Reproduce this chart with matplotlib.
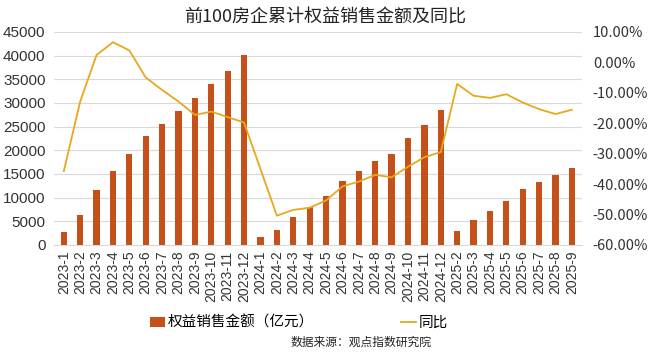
import matplotlib
matplotlib.use("Agg")
import matplotlib.pyplot as plt
import numpy as np

plt.rcParams['font.family'] = ['Noto Sans CJK SC', 'DejaVu Sans']
plt.rcParams['axes.unicode_minus'] = False

months = ([f"2023-{m}" for m in range(1, 13)]
          + [f"2024-{m}" for m in range(1, 13)]
          + [f"2025-{m}" for m in range(2, 10)])

sales = [2750, 6350, 11500, 15650, 19250, 22900, 25600, 28200, 30950, 33950, 36800, 40150,
         1700, 3100, 5850, 7950, 10400, 13450, 15550, 17800, 19250, 22550, 25350, 28400,
         2900, 5300, 7200, 9350, 11750, 13200, 14750, 16300]

yoy = [-35.8, -12.9, 2.4, 6.6, 3.9, -5.0, -9.1, -12.9, -17.3, -16.2, -18.0, -19.8,
       -35.1, -50.4, -48.5, -47.8, -45.4, -40.8, -39.2, -37.0, -37.8, -34.3, -31.2, -29.5,
       -7.1, -11.0, -11.7, -10.5, -13.2, -15.4, -17.0, -15.6]

left_ticks = list(range(0, 45001, 5000))
right_ticks = list(range(-60, 11, 10))

bar_color = '#C65019'
line_color = '#E8A81C'
num_font = ['Liberation Sans', 'DejaVu Sans']

fig = plt.figure(figsize=(6.5, 3.58), dpi=100)
ax = fig.add_axes([0.083, 0.316, 0.812, 0.595])
ax2 = ax.twinx()

x = np.arange(len(months))
ax.bar(x, sales, width=0.38, color=bar_color, label='权益销售金额（亿元）', zorder=3)
ax2.plot(x, yoy, color=line_color, linewidth=1.3, label='同比', zorder=4)

ax.set_xlim(-0.6, len(months) - 0.4)
ax.set_ylim(0, 45000)
ax.set_yticks(left_ticks)
ax.set_yticklabels([str(v) for v in left_ticks], fontsize=11, color='#333333',
                   family=num_font)
ax2.set_ylim(-60, 10)
ax2.set_yticks(right_ticks)
ax2.set_yticklabels([f"{v:.2f}%" for v in right_ticks], fontsize=10.5, color='#333333')

ax.set_xticks(x)
ax.set_xticklabels(months, rotation=90, fontsize=10, color='#333333', family=num_font)

ax.grid(axis='y', color='#D9D9D9', linewidth=0.8, zorder=0)
ax.set_axisbelow(True)
for a in (ax, ax2):
    for s in a.spines.values():
        s.set_visible(False)
    a.tick_params(length=0)
ax.tick_params(axis='x', pad=4)
ax.tick_params(axis='y', pad=6)
ax2.tick_params(axis='y', pad=8)
ax.spines['bottom'].set_visible(True)
ax.spines['bottom'].set_color('#D9D9D9')

fig.text(0.5, 0.952, '前100房企累计权益销售金额及同比', ha='center', va='center',
         fontsize=13, color='#222222')

h1, l1 = ax.get_legend_handles_labels()
h2, l2 = ax2.get_legend_handles_labels()
fig.legend(h1 + h2, l1 + l2, loc='center', bbox_to_anchor=(0.46, 0.098), ncol=2,
           frameon=False, fontsize=10.5, handlelength=1.0, handletextpad=0.2,
           columnspacing=6.0)

fig.text(0.556, 0.044, '数据来源：观点指数研究院', ha='center', va='center',
         fontsize=8.5, color='#222222')

fig.savefig('out.png', dpi=100)
